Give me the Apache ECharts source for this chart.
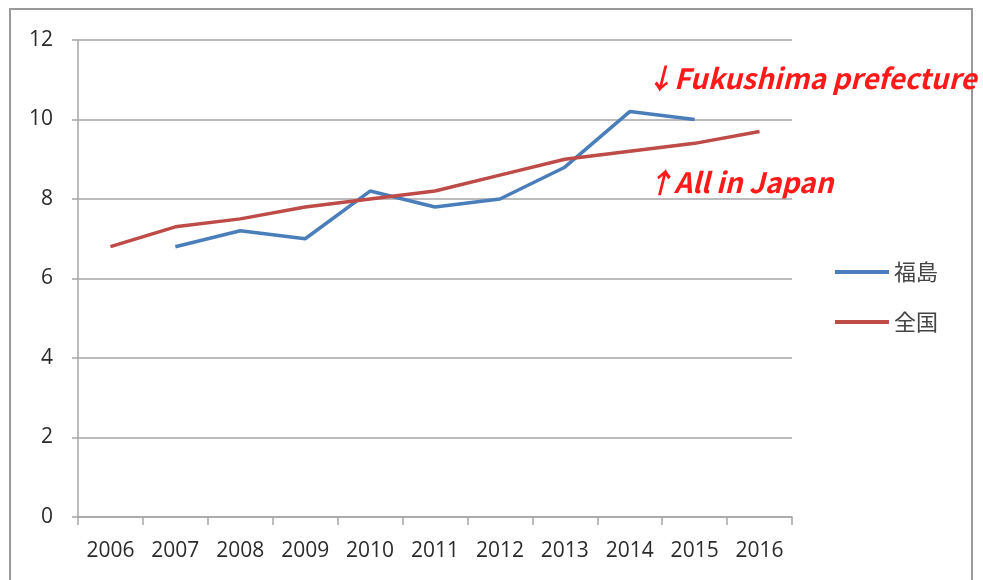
<!DOCTYPE html>
<html>
<head>
<meta charset="utf-8">
<script src="https://cdn.jsdelivr.net/npm/echarts@6/dist/echarts.min.js"></script>
<style>
  html, body { margin: 0; padding: 0; background: #fff; }
  #chart { width: 983px; height: 580px; }
</style>
</head>
<body>
<div id="chart"></div>
<script>
// years on the x axis
var years = ['2006', '2007', '2008', '2009', '2010', '2011', '2012', '2013', '2014', '2015', '2016'];
// 福島 (Fukushima) - no value for 2006 / 2016
var fukushima = ['-', 6.8, 7.2, 7.0, 8.2, 7.8, 8.0, 8.8, 10.2, 10.0, '-'];
// 全国 (all Japan)
var zenkoku = [6.8, 7.3, 7.5, 7.8, 8.0, 8.2, 8.6, 9.0, 9.2, 9.4, 9.7];

var myChart = echarts.init(document.getElementById('chart'));

var axisGray = '#a6a6a6';
var labelColor = '#2b2b2b';

var option = {
    animation: false,
    backgroundColor: '#fff',
    grid: { left: 78, right: 191, top: 40, bottom: 63 },
    legend: {
        orient: 'vertical',
        left: 830,
        top: 256,
        itemWidth: 54,
        itemHeight: 4,
        itemGap: 28,
        icon: 'rect',
        textStyle: { fontSize: 22, color: '#444', fontFamily: 'Noto Sans CJK JP' },
        data: ['福島', '全国']
    },
    xAxis: {
        type: 'category',
        data: years,
        boundaryGap: true,
        axisLine: { lineStyle: { color: axisGray, width: 1.5 } },
        axisTick: { show: true, interval: 0, length: 8, lineStyle: { color: axisGray, width: 1.5 } },
        axisLabel: { interval: 0, hideOverlap: false, fontSize: 21, color: labelColor, margin: 24, fontFamily: 'Open Sans' }
    },
    yAxis: {
        type: 'value',
        min: 0,
        max: 12,
        interval: 2,
        axisLine: { show: true, lineStyle: { color: axisGray, width: 1.5 } },
        axisTick: { show: true, length: 6, lineStyle: { color: axisGray, width: 1.5 } },
        axisLabel: { fontSize: 21, color: labelColor, margin: 25, fontFamily: 'Open Sans' },
        splitLine: { lineStyle: { color: axisGray, width: 1.5 } }
    },
    series: [
        {
            name: '福島',
            type: 'line',
            data: fukushima,
            symbol: 'none',
            lineStyle: { width: 3.5, color: '#4a7ebb' },
            itemStyle: { color: '#4a7ebb' },
            z: 3
        },
        {
            name: '全国',
            type: 'line',
            data: zenkoku,
            symbol: 'none',
            lineStyle: { width: 3.5, color: '#be4b48' },
            itemStyle: { color: '#be4b48' },
            z: 4
        }
    ],
    graphic: [
        {
            type: 'rect',
            shape: { x: 10, y: 9, width: 962, height: 600 },
            style: { fill: 'none', stroke: '#9a9a9a', lineWidth: 2 },
            silent: true
        },
        {
            type: 'text',
            left: 646,
            top: 64,
            style: {
                text: '↓Fukushima prefecture',
                fill: '#ff1a1a',
                fontSize: 28,
                fontWeight: 'bold',
                fontStyle: 'italic',
                fontFamily: 'Noto Sans CJK JP'
            }
        },
        {
            type: 'text',
            left: 646,
            top: 168,
            style: {
                text: '↑All in Japan',
                fill: '#ff1a1a',
                fontSize: 28,
                fontWeight: 'bold',
                fontStyle: 'italic',
                fontFamily: 'Noto Sans CJK JP'
            }
        }
    ]
};

myChart.setOption(option);
</script>
</body>
</html>
